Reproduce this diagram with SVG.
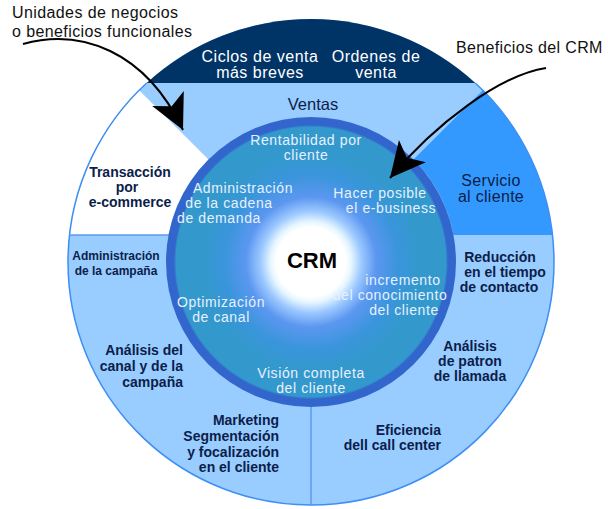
<svg xmlns="http://www.w3.org/2000/svg" width="608" height="509" viewBox="0 0 608 509">
<defs>
<radialGradient id="core" cx="311" cy="262" r="145" gradientUnits="userSpaceOnUse">
<stop offset="0" stop-color="#ffffff"/>
<stop offset="0.24" stop-color="#ffffff"/>
<stop offset="0.28" stop-color="#e4f6ff"/>
<stop offset="0.35" stop-color="#9cc8ff"/>
<stop offset="0.45" stop-color="#5b97f0"/>
<stop offset="0.6" stop-color="#3a95dc"/>
<stop offset="0.75" stop-color="#3399cc"/>
<stop offset="0.93" stop-color="#3399cc"/>
<stop offset="0.945" stop-color="#3366cc"/>
<stop offset="1" stop-color="#3366cc"/>
</radialGradient>
<marker id="head" markerUnits="userSpaceOnUse" markerWidth="40" markerHeight="40" viewBox="-30 -16 32 32" refX="0" refY="0" orient="auto">
<path d="M0,0 L-28,-14 L-21,0 L-28,14 Z" fill="#000"/>
</marker>
<style>
text{font-family:"Liberation Sans",Arial,sans-serif}
.note{font-size:16px;fill:#111;letter-spacing:0.4px}
.top{font-size:16px;fill:#fff;text-anchor:middle;letter-spacing:0.5px}
.band{font-size:16.5px;fill:#0b1e4a;text-anchor:middle}
.svc{font-size:16px;fill:#0b1e4a;text-anchor:middle;letter-spacing:0.3px}
.ring{font-size:14px;fill:#e8f0ff;text-anchor:middle;letter-spacing:0.6px}
.lab{font-size:14px;font-weight:bold;fill:#0b1e4a}
.mid{text-anchor:middle}
.end{text-anchor:end}
.arrow{fill:none;stroke:#000;stroke-width:2;marker-end:url(#head)}
.div{stroke:#5b9bf0;stroke-width:1.5;fill:none}
</style>
</defs>
<rect width="608" height="509" fill="#fff"/>

<g id="base">
<circle cx="311" cy="262" r="243" fill="#99ccff"/>
</g>

<g id="ciclos-ordenes">
<path d="M146.7,83 A243,243 0 0 1 475.3,83 Z" fill="#003366"/>
<text class="top" x="260" y="62">Ciclos de venta</text>
<text class="top" x="260" y="78">más breves</text>
<text class="top" x="376" y="62">Ordenes de</text>
<text class="top" x="376" y="78">venta</text>
</g>

<g id="ventas">
<text class="band" x="313" y="110">Ventas</text>
</g>

<g id="ecommerce">
<path d="M139.2,90.2 L208.5,159.5 A145,145 0 0 0 168.5,235 L69.5,235 A243,243 0 0 1 139.2,90.2 Z" fill="#ffffff"/>
<text class="lab mid" x="130" y="177">Transacción</text>
<text class="lab mid" x="127" y="192">por</text>
<text class="lab mid" x="130" y="207">e-commerce</text>
</g>

<g id="servicio">
<path d="M482.8,90.2 A243,243 0 0 1 552.5,235 L453.5,235 A145,145 0 0 0 413.5,159.5 Z" fill="#3399ff"/>
<text class="svc" x="491" y="186">Servicio</text>
<text class="svc" x="491" y="202">al cliente</text>
</g>

<g id="outline">
<path d="M475.3,83 A243,243 0 1 1 146.7,83" fill="none" stroke="#3d8ef5" stroke-width="1.5"/>
<line class="div" x1="69.5" y1="235" x2="170" y2="235"/>
<line class="div" x1="311" y1="405" x2="311" y2="505"/>
</g>

<g id="marketing">
<text class="lab mid" x="116" y="260" style="font-size:12px">Administración</text>
<text class="lab mid" x="116" y="275" style="font-size:12px">de la campaña</text>
<text class="lab end" x="183" y="355">Análisis del</text>
<text class="lab end" x="183" y="371">canal y de la</text>
<text class="lab end" x="183" y="387">campaña</text>
<text class="lab end" x="279" y="425">Marketing</text>
<text class="lab end" x="279" y="441">Segmentación</text>
<text class="lab end" x="279" y="457">y focalización</text>
<text class="lab end" x="279" y="472">en el cliente</text>
</g>

<g id="callcenter">
<text class="lab mid" x="500" y="262">Reducción</text>
<text class="lab mid" x="505" y="277">en el tiempo</text>
<text class="lab mid" x="499" y="292">de contacto</text>
<text class="lab mid" x="470" y="351">Análisis</text>
<text class="lab mid" x="470" y="366">de patron</text>
<text class="lab mid" x="470" y="381">de llamada</text>
<text class="lab end" x="441" y="435">Eficiencia</text>
<text class="lab end" x="441" y="450">dell call center</text>
</g>

<g id="crm">
<circle cx="311" cy="262" r="145" fill="url(#core)"/>
<text x="312" y="268" style="font-size:22px;font-weight:bold;fill:#000;text-anchor:middle">CRM</text>
<text class="ring" x="306" y="145">Rentabilidad por</text>
<text class="ring" x="306" y="160">cliente</text>
<text class="ring" x="243" y="193">Administración</text>
<text class="ring" x="229" y="208">de la cadena</text>
<text class="ring" x="219" y="223">de demanda</text>
<text class="ring" x="380" y="198">Hacer posible</text>
<text class="ring" x="391" y="213">el e-business</text>
<text class="ring" x="403" y="285">incremento</text>
<text class="ring" x="390" y="300">del conocimiento</text>
<text class="ring" x="404" y="315">del cliente</text>
<text class="ring" x="221" y="307">Optimización</text>
<text class="ring" x="221" y="322">de canal</text>
<text class="ring" x="311" y="378">Visión completa</text>
<text class="ring" x="311" y="393">del cliente</text>
</g>

<g id="label-unidades">
<text class="note" x="12" y="18">Unidades de negocios</text>
<text class="note" x="12" y="37">o beneficios funcionales</text>
</g>

<g id="label-beneficios">
<text class="note" x="456" y="53" style="letter-spacing:0.35px">Beneficios del CRM</text>
</g>

<g id="connectors">
<path class="arrow" d="M23,44 C80,28 145,50 183,130"/>
<path class="arrow" d="M546,68 C500,75 435,124 390,178"/>
</g>
</svg>
